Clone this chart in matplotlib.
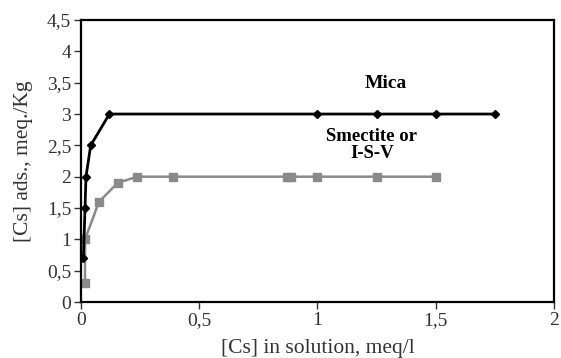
import matplotlib
matplotlib.use('Agg')
import matplotlib.pyplot as plt
from matplotlib.ticker import FuncFormatter

# Mica
mica_x = [0.01, 0.017, 0.021, 0.041, 0.12, 1.0, 1.25, 1.5, 1.75]
mica_y = [0.7, 1.5, 2.0, 2.5, 3.0, 3.0, 3.0, 3.0, 3.0]

# Smectite or I-S-V
smec_x = [0.017, 0.017, 0.076, 0.155, 0.237, 0.39, 0.87, 0.89, 1.0, 1.25, 1.5]
smec_y = [0.3, 1.0, 1.6, 1.9, 2.0, 2.0, 2.0, 2.0, 2.0, 2.0, 2.0]

x_ticks = [0, 0.5, 1, 1.5, 2]
y_ticks = [0, 0.5, 1, 1.5, 2, 2.5, 3, 3.5, 4, 4.5]

plt.rcParams['font.family'] = ['Liberation Serif', 'DejaVu Serif']

fig = plt.figure(figsize=(5.61, 3.58), dpi=100)
ax = fig.add_axes([0.1444, 0.1564, 0.8431, 0.7876])

ax.plot(mica_x, mica_y, color='black', lw=2, marker='D', markersize=4.5, zorder=3)
ax.plot(smec_x, smec_y, color='#8a8a8a', lw=1.8, marker='s', markersize=5.5, zorder=2)

ax.text(1.29, 3.49, 'Mica', ha='center', va='center', fontsize=14, fontweight='bold')
ax.text(1.23, 2.5, 'Smectite or\nI-S-V', ha='center', va='center', fontsize=13.5,
        fontweight='bold', linespacing=1.0)

ax.set_xlim(0, 2)
ax.set_ylim(0, 4.5)
ax.set_xticks(x_ticks)
ax.set_yticks(y_ticks)
comma = FuncFormatter(lambda v, p: ('%g' % v).replace('.', ','))
ax.xaxis.set_major_formatter(comma)
ax.yaxis.set_major_formatter(comma)
ax.tick_params(direction='out', length=5, width=1, labelsize=14, colors='#333333', pad=2)

for s in ax.spines.values():
    s.set_linewidth(1.6)

ax.set_xlabel('[Cs] in solution, meq/l', fontsize=15.5, color='#333333', labelpad=7.5)
ax.set_ylabel('[Cs] ads., meq./Kg', fontsize=15.5, color='#333333', labelpad=10)

fig.savefig('out.png', dpi=100)
